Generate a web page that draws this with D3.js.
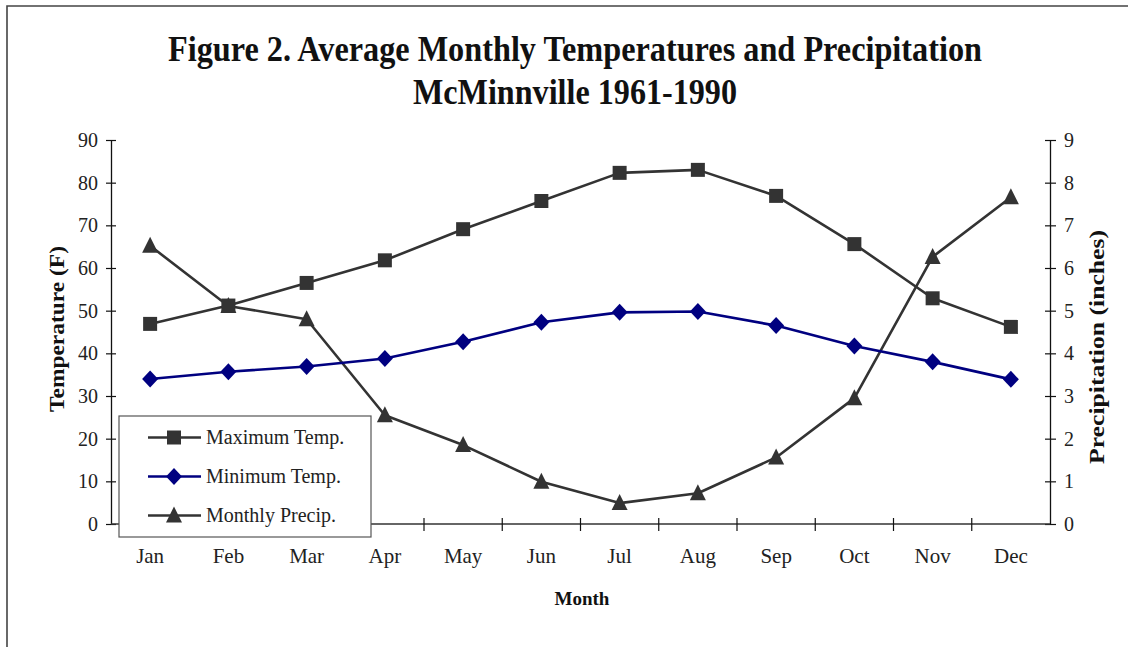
<!DOCTYPE html>
<html>
<head>
<meta charset="utf-8">
<script src="https://cdn.jsdelivr.net/npm/d3@7/dist/d3.min.js"></script>
<style>
  body { margin: 0; background: #fff; }
  svg { display: block; font-family: "Liberation Serif", "Times New Roman", serif; }
</style>
</head>
<body>
<svg id="chart" width="1128" height="647"></svg>
<script>
// Monthly climate normals, McMinnville 1961-1990
const months = ["Jan","Feb","Mar","Apr","May","Jun","Jul","Aug","Sep","Oct","Nov","Dec"];
const maxTemp = [46.9, 51.2, 56.5, 61.8, 69.1, 75.7, 82.3, 83.0, 76.9, 65.6, 52.9, 46.2];
const minTemp = [34.0, 35.7, 36.9, 38.8, 42.7, 47.3, 49.6, 49.8, 46.5, 41.7, 38.0, 33.9];
const precip  = [6.52, 5.11, 4.80, 2.55, 1.85, 0.99, 0.49, 0.72, 1.56, 2.95, 6.26, 7.66];
const tempTicks = [0, 10, 20, 30, 40, 50, 60, 70, 80, 90];
const precipTicks = [0, 1, 2, 3, 4, 5, 6, 7, 8, 9];
const legendLabels = ["Maximum Temp.", "Minimum Temp.", "Monthly Precip."];

const svg = d3.select("#chart");
const plotLeft = 111, plotRight = 1050, plotTop = 140, plotBottom = 524;

const x = d3.scaleBand().domain(months).range([plotLeft, plotRight]).padding(0);
const yT = d3.scaleLinear().domain([0, 90]).range([plotBottom, plotTop]);
const yP = d3.scaleLinear().domain([0, 9]).range([plotBottom, plotTop]);
const cx = m => x(m) + x.bandwidth() / 2;

// outer frame
svg.append("path")
  .attr("d", "M7,647V6H1128")
  .attr("fill", "none").attr("stroke", "#444").attr("stroke-width", 1.6);

// titles
svg.append("text").attr("x", 575).attr("y", 61).attr("text-anchor", "middle")
  .attr("font-size", 35).attr("font-weight", "bold").attr("fill", "#111")
  .attr("textLength", 814).attr("lengthAdjust", "spacingAndGlyphs")
  .text("Figure 2. Average Monthly Temperatures and Precipitation");
svg.append("text").attr("x", 575).attr("y", 104).attr("text-anchor", "middle")
  .attr("font-size", 35).attr("font-weight", "bold").attr("fill", "#111")
  .attr("textLength", 324).attr("lengthAdjust", "spacingAndGlyphs")
  .text("McMinnville 1961-1990");

// left axis (temperature)
const gL = svg.append("g").attr("transform", `translate(${plotLeft},0)`)
  .call(d3.axisLeft(yT).tickValues(tempTicks).tickSize(5).tickSizeOuter(0).tickPadding(8));
gL.selectAll(".tick line").attr("x2", -5).attr("x1", 5);
// right axis (precipitation)
const gR = svg.append("g").attr("transform", `translate(${plotRight},0)`)
  .call(d3.axisRight(yP).tickValues(precipTicks).tickSize(6).tickSizeOuter(0).tickPadding(8));
gR.selectAll(".tick line").attr("x1", -5);
[gL, gR].forEach(g => {
  g.select(".domain").attr("stroke", "#111").attr("stroke-width", 1.3);
  g.selectAll(".tick line").attr("stroke", "#111").attr("stroke-width", 1.2);
  g.selectAll(".tick text").attr("font-size", 20).attr("fill", "#222")
    .attr("font-family", "Liberation Serif, serif");
});

// bottom axis: baseline, boundary ticks between months, month labels
const gB = svg.append("g");
gB.append("line").attr("x1", plotLeft).attr("x2", plotRight).attr("y1", plotBottom).attr("y2", plotBottom)
  .attr("stroke", "#333").attr("stroke-width", 1.3);
gB.selectAll("line.tick").data(months.slice(1)).join("line").attr("class", "tick")
  .attr("x1", d => x(d)).attr("x2", d => x(d))
  .attr("y1", plotBottom - 6).attr("y2", plotBottom + 7)
  .attr("stroke", "#111").attr("stroke-width", 1.2);
gB.selectAll("text").data(months).join("text")
  .attr("x", cx).attr("y", 563).attr("text-anchor", "middle")
  .attr("font-size", 21).attr("fill", "#222").text(d => d);

// axis titles
svg.append("text").attr("x", 582).attr("y", 605).attr("text-anchor", "middle")
  .attr("font-size", 19).attr("font-weight", "bold").attr("fill", "#111").text("Month");
svg.append("text").attr("transform", "translate(64,329) rotate(-90)")
  .attr("text-anchor", "middle").attr("font-size", 21).attr("font-weight", "bold")
  .attr("fill", "#111").attr("textLength", 166).attr("lengthAdjust", "spacingAndGlyphs")
  .text("Temperature (F)");
svg.append("text").attr("transform", "translate(1104,347) rotate(-90)")
  .attr("text-anchor", "middle").attr("font-size", 21).attr("font-weight", "bold")
  .attr("fill", "#111").attr("textLength", 234).attr("lengthAdjust", "spacingAndGlyphs")
  .text("Precipitation (inches)");

// marker shapes
const sq = d3.symbol().type(d3.symbolSquare).size(14 * 14);
const diamondPath = "M0,-8.5L8,0L0,8.5L-8,0Z";
const trianglePath = "M0,-9L8,7L-8,7Z";

const series = [
  { vals: precip, y: yP, color: "#333333", shape: trianglePath },
  { vals: minTemp, y: yT, color: "#000080", shape: diamondPath },
  { vals: maxTemp, y: yT, color: "#333333", shape: sq() }
];

series.forEach(s => {
  const line = d3.line().x((d, i) => cx(months[i])).y(d => s.y(d));
  svg.append("path").datum(s.vals).attr("d", line)
    .attr("fill", "none").attr("stroke", s.color).attr("stroke-width", 2.6)
    .attr("stroke-linejoin", "round");
  svg.append("g").selectAll("path").data(s.vals).join("path")
    .attr("transform", (d, i) => `translate(${cx(months[i])},${s.y(d)})`)
    .attr("d", s.shape).attr("fill", s.color);
});

// legend
const lg = svg.append("g");
lg.append("rect").attr("x", 119).attr("y", 416).attr("width", 252).attr("height", 121)
  .attr("fill", "#fff").attr("stroke", "#555").attr("stroke-width", 1.2);
const legendItems = [
  { label: legendLabels[0], color: "#333333", shape: sq() },
  { label: legendLabels[1], color: "#000080", shape: diamondPath },
  { label: legendLabels[2], color: "#333333", shape: trianglePath }
];
legendItems.forEach((it, i) => {
  const ly = 437.5 + i * 39;
  lg.append("line").attr("x1", 148).attr("x2", 201).attr("y1", ly).attr("y2", ly)
    .attr("stroke", it.color).attr("stroke-width", 2.6);
  lg.append("path").attr("transform", `translate(174,${ly})`).attr("d", it.shape).attr("fill", it.color);
  lg.append("text").attr("x", 206).attr("y", ly + 6.5).attr("font-size", 20)
    .attr("fill", "#222").text(it.label);
});
</script>
</body>
</html>
